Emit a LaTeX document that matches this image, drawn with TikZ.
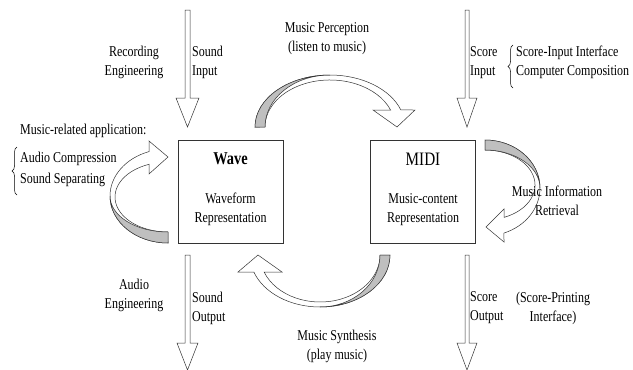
\documentclass[tikz,border=0pt]{standalone}
\usepackage{fontspec}
\setmainfont{Liberation Serif}[FakeStretch=0.8]
\usetikzlibrary{decorations.pathreplacing}

\tikzset{
  box/.style={draw=black!80, line width=0.7pt, minimum width=105pt, minimum height=103pt, inner sep=0pt},
  lbl/.style={font=\fontsize{15}{19}\selectfont, inner sep=0pt},
  back/.style={draw=black!80, fill=black!25, line width=0.5pt},
  front/.style={draw=black!80, fill=white, line width=0.5pt},
  brc/.style={decorate, decoration={brace, amplitude=5pt}, line width=0.5pt},
}

\begin{document}
\begin{tikzpicture}[x=1pt, y=-1pt]
\useasboundingbox (0,0) rectangle (633,370); % same size as the reference

% the two representations
\node[box] (wave) at (230.5,191.5) {};
\node[box] (midi) at (423,191.5) {};
\node[lbl, font=\fontsize{18}{19}\selectfont\bfseries] (wavename) at (230.5,159) {Wave};
\node[lbl, align=center] (wavetext) at (230.5,209.5) {Waveform\\Representation};
\node[lbl, font=\fontsize{19}{19}\selectfont] (midiname) at (423,159) {MIDI};
\node[lbl, align=center] (miditext) at (423,209.5) {Music-content\\Representation};

% straight block arrows (in and out)
\draw[front] (185,10) -- (190,10) -- (190,98) -- (199,98) -- (187.5,127) -- (176,98) -- (185,98) -- cycle; % sound input
\draw[front] (465,10) -- (469,10) -- (469,98) -- (477,98) -- (467,127) -- (457,98) -- (465,98) -- cycle; % score input
\draw[front] (185,255) -- (190,255) -- (190,343) -- (198,343) -- (187.5,370) -- (177,343) -- (185,343) -- cycle; % sound output
\draw[front] (465,255) -- (469,255) -- (469,343) -- (477,343) -- (467,370) -- (457,343) -- (465,343) -- cycle; % score output

% curved arrows: white ribbon with its head, then the grey back face on top
\draw[front] (255,127) arc[start angle=180, end angle=19.1, x radius=75pt, y radius=52pt] -- (415,110) -- (397,127) -- (373,110) -- (390.6,110)
  arc[start angle=21.2, end angle=180, x radius=65pt, y radius=47pt] -- cycle; % perception
\draw[back] (255,127) arc[start angle=180, end angle=90, x radius=75pt, y radius=52pt]
  arc[start angle=90, end angle=180, x radius=65pt, y radius=52pt] -- cycle;

\draw[front] (485,140) arc[start angle=90, end angle=-69.8, x radius=55pt, y radius=48pt] -- (504,242) -- (486,227) -- (504,209) -- (504,217.4)
  arc[start angle=-67.7, end angle=90, x radius=50pt, y radius=35pt] -- cycle; % retrieval
\draw[back] (485,140) arc[start angle=90, end angle=0, x radius=55pt, y radius=48pt]
  arc[start angle=0, end angle=90, x radius=55pt, y radius=38pt] -- cycle;

\draw[front] (390,255) arc[start angle=0, end angle=-160.9, x radius=70pt, y radius=52pt] -- (238,272) -- (258,255) -- (282,272) -- (264.1,272)
  arc[start angle=-158.8, end angle=0, x radius=60pt, y radius=47pt] -- cycle; % synthesis
\draw[back] (390,255) arc[start angle=0, end angle=-90, x radius=70pt, y radius=52pt]
  arc[start angle=-90, end angle=0, x radius=60pt, y radius=52pt] -- cycle;

\draw[front] (168,243) arc[start angle=-90, end angle=-250.9, x radius=58pt, y radius=47pt] -- (149,141) -- (168,157) -- (149,174) -- (149,164.3)
  arc[start angle=-249, end angle=-90, x radius=53pt, y radius=35pt] -- cycle; % applications
\draw[back] (168,243) arc[start angle=-90, end angle=-180, x radius=58pt, y radius=47pt]
  arc[start angle=-180, end angle=-90, x radius=58pt, y radius=36pt] -- cycle;

% labels
\node[lbl, align=center] (recording) at (134,62.5) {Recording\\Engineering};
\node[lbl, align=left, anchor=west] (soundin) at (192,62.5) {Sound\\Input};
\node[lbl, align=center] (perception) at (327,39) {Music Perception\\(listen to music)};
\node[lbl, align=left, anchor=west] (scorein) at (470,62.5) {Score\\Input};
\draw[brc] (513,88) -- (513,45);
\node[lbl, align=left, anchor=west] (scoreapps) at (516,62.5) {Score-Input Interface\\Computer Composition};
\node[lbl, anchor=west] (related) at (20,131) {Music-related application:};
\draw[brc] (17,195) -- (17,147);
\node[lbl, align=left, anchor=west, font=\fontsize{15}{21}\selectfont] (waveapps) at (20,169.5) {Audio Compression\\Sound Separating};
\node[lbl, align=center] (retrieval) at (557,200.5) {Music Information\\Retrieval};
\node[lbl, align=center] (audio) at (134,295) {Audio\\Engineering};
\node[lbl, align=left, anchor=west] (soundout) at (192,308) {Sound\\Output};
\node[lbl, align=center] (synthesis) at (337,346.5) {Music Synthesis\\(play music)};
\node[lbl, align=left, anchor=west] (scoreout) at (470,308) {Score\\Output};
\node[lbl, align=center] (printing) at (553,308) {(Score-Printing\\Interface)};
\end{tikzpicture}
\end{document}
